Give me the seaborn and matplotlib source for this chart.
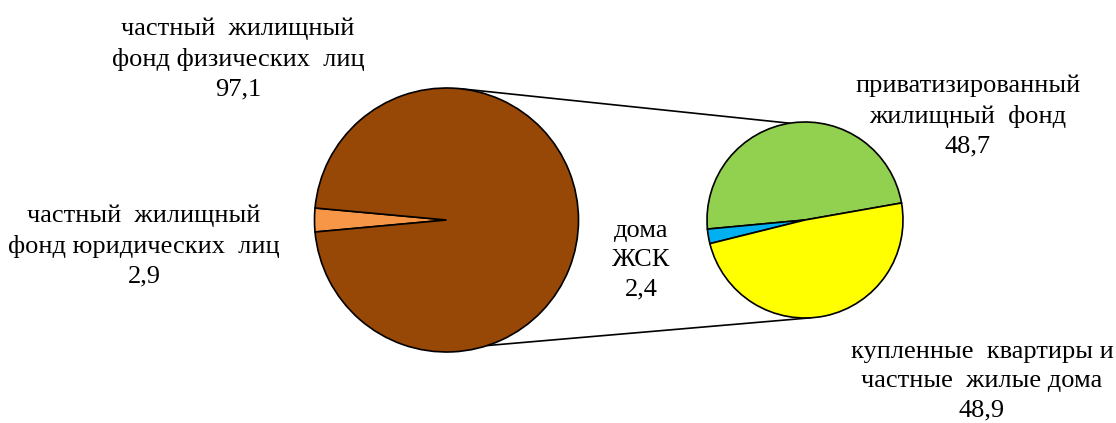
import matplotlib
matplotlib.use("Agg")
import matplotlib.pyplot as plt
import seaborn as sns
import numpy as np

sns.set_theme(style="white")
plt.rcParams['font.family'] = ['Liberation Serif', 'DejaVu Serif']

# Data
main_labels = ["частный  жилищный\nфонд юридических  лиц", "частный  жилищный\nфонд физических  лиц"]
main_values = [2.9, 97.1]
main_colors = ["#F79646", "#974706"]

sub_labels = ["приватизированный\nжилищный  фонд", "дома\nЖСК", "купленные  квартиры и\nчастные  жилые дома"]
sub_values = [48.7, 2.4, 48.9]
sub_colors = ["#92D050", "#00B0F0", "#FFFF00"]

W, H = 1116, 423
fig = plt.figure(figsize=(W / 100, H / 100), dpi=100)
ax = fig.add_axes([0, 0, 1, 1])
ax.set_xlim(0, W)
ax.set_ylim(0, H)
ax.set_aspect("equal")
ax.axis("off")

def py(y):
    return H - y

c1 = (446.5, py(220)); r1 = 132
c2 = (805, py(220)); r2 = 98

start1 = 180 - main_values[0] / 100 * 360 / 2
ax.pie(main_values, colors=main_colors, startangle=start1, center=c1, radius=r1,
       wedgeprops=dict(edgecolor="black", linewidth=1.2), frame=True)
ax.pie(sub_values, colors=sub_colors, startangle=10, center=c2, radius=r2,
       wedgeprops=dict(edgecolor="black", linewidth=1.2), frame=True)
ax.set_xlim(0, W)
ax.set_ylim(0, H)
ax.axis("off")

def pt(c, r, ang):
    a = np.deg2rad(ang)
    return c[0] + r * np.cos(a), c[1] + r * np.sin(a)

for a1, a2 in [(84, 99), (-72, -87)]:
    p1 = pt(c1, r1, a1); p2 = pt(c2, r2, a2)
    ax.plot([p1[0], p2[0]], [p1[1], p2[1]], color="black", linewidth=1.2, zorder=0)

fs = 19
ls = 1.42
def lab(x, y, s):
    ax.text(x, py(y), s, ha="center", va="center", fontsize=fs, linespacing=ls, color="black")

lab(238, 59, main_labels[1] + "\n" + f"{main_values[1]:.1f}".replace(".", ","))
lab(144, 246, main_labels[0] + "\n" + f"{main_values[0]:.1f}".replace(".", ","))
lab(641, 260, sub_labels[1] + "\n" + f"{sub_values[1]:.1f}".replace(".", ","))
lab(968, 116, sub_labels[0] + "\n" + f"{sub_values[0]:.1f}".replace(".", ","))
lab(982, 381, sub_labels[2] + "\n" + f"{sub_values[2]:.1f}".replace(".", ","))

fig.savefig("out.png", dpi=100)
